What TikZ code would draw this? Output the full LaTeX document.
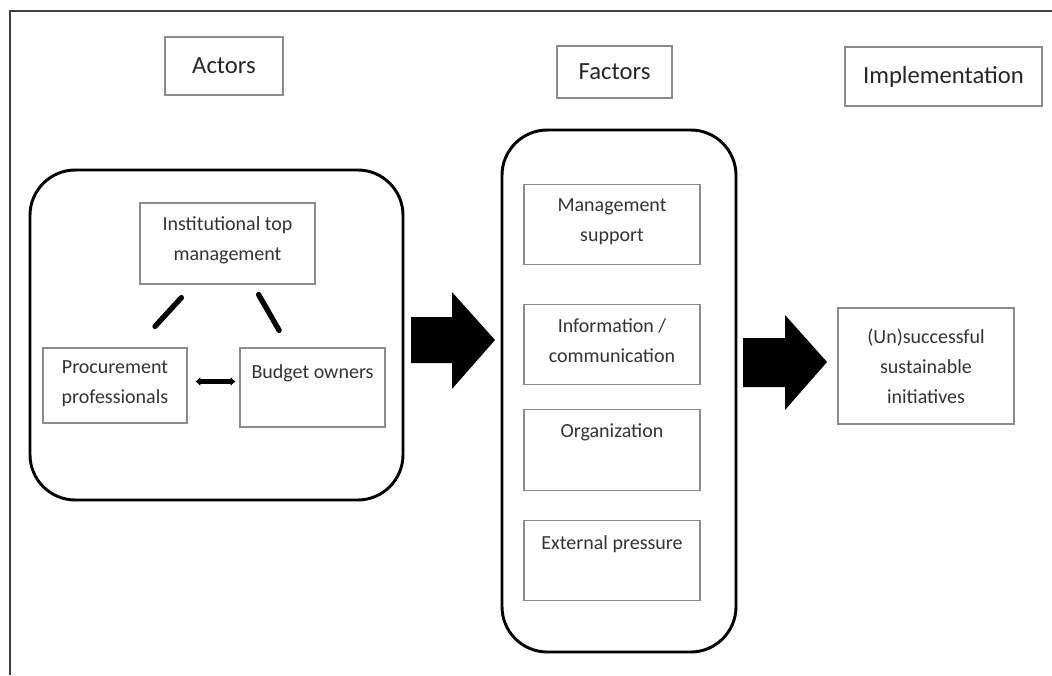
\documentclass[tikz,border=0pt]{standalone}
\usepackage{fontspec}
\setmainfont{Carlito}
\usetikzlibrary{positioning,arrows.meta,fit}

\begin{document}
\begin{tikzpicture}[
		x=0.75pt,y=-0.75pt,
		title/.style={
			draw=black!45,
			line width=0.9pt,
			text=black!85,
			font=\fontsize{18.5}{22}\selectfont,
			inner sep=0pt
		},
		item/.style={
			draw=black!45,
			line width=0.9pt,
			inner sep=0pt
		},
		itemtext/.style={
			text=black!80,
			font=\fontsize{15}{22.5}\selectfont,
			align=center,
			inner sep=0pt
		},
		panel/.style={
			draw=black,
			line width=2.2pt,
			rounded corners=34pt,
			inner sep=0pt
		},
		link/.style={
			line width=4pt,
			line cap=round
		},
		block/.style={
			fill=black
		},
		>={Latex[length=3.5pt,width=7pt]}
		]
		\useasboundingbox (0,0) rectangle (1052,675);
		% outer frame
		\draw[line width=1.9pt,black!75] (10,675) -- (10,11) -- (1052,11);

		% column titles
		\node[title,minimum width=88.5pt,minimum height=43.5pt] (actorsT) at (224,66) {Actors};
		\node[title,minimum width=86.25pt,minimum height=39pt] (factorsT) at (614.5,72) {Factors};
		\node[title,minimum width=147.75pt,minimum height=44.25pt] (implT) at (943.5,76.5) {Implementation};

		% actors
		\node[panel,fit={(30,170) (403,500)}] (actors) {};
		\node[item,minimum width=131.25pt,minimum height=60.75pt] (topmgmt) at (227.5,243.5) {};
		\node[item,minimum width=108pt,minimum height=56.25pt] (procure) at (115,385.5) {};
		\node[item,minimum width=108.75pt,minimum height=59.25pt] (budget) at (312.5,387.5) {};
		\node[itemtext,below=10.5pt of topmgmt.north] (topmgmtT) {Institutional top\\management};
		\node[itemtext,below=10pt of procure.north] (procureT) {Procurement\\professionals};
		\node[itemtext,below=13pt of budget.north] (budgetT) {Budget owners};

		\draw[link] ([xshift=31.5pt,yshift=-9.75pt]topmgmt.south west) -- ([xshift=30pt,yshift=15.75pt]procure.north);
		\draw[link] ([xshift=-42.75pt,yshift=-7.5pt]topmgmt.south east) -- ([xshift=-25pt,yshift=12.75pt]budget.north);
		\draw[line width=3.8pt,<->] ([xshift=6pt,yshift=3pt]procure.east) -- ([xshift=-3pt,yshift=3pt]procure.east -| budget.west);

		% factors
		\node[panel,fit={(502,130) (736,652)}] (factors) {};
		\foreach \nm/\yy in {mgmt/224.5,info/344.5,org/450,ext/560.5}
			\node[item,minimum width=132pt,minimum height=60.5pt] (\nm) at (612,\yy) {};
		\node[itemtext,below=11pt of mgmt.north] (mgmtT) {Management\\support};
		\node[itemtext,below=11pt of info.north] (infoT) {Information /\\communication};
		\node[itemtext,below=10.5pt of org.north] (orgT) {Organization};
		\node[itemtext,below=12pt of ext.north] (extT) {External pressure};

		% implementation
		\node[item,minimum width=132pt,minimum height=87pt] (outcome) at (926,366) {};
		\node[itemtext] (outcomeT) at (outcome.center) {(Un)successful\\sustainable\\initiatives};

		% block arrows
		\fill[block] (411,317) -- (452,317) -- (452,292) -- (495,340) -- (452,389) -- (452,363) -- (411,363) -- cycle;
		\fill[block] (743,338) -- (785,338) -- (785,315) -- (827,362) -- (785,410) -- (785,387) -- (743,387) -- cycle;
	\end{tikzpicture}
\end{document}
